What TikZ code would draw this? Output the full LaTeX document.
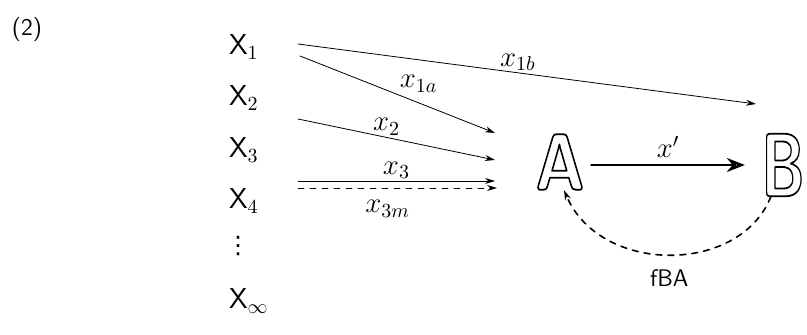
\documentclass[tikz,border=0pt]{standalone}
\usepackage{fontspec}
\usepackage{graphicx}
\usetikzlibrary{arrows.meta}
\newfontfamily\symfont{DejaVu Sans}
\newcommand{\hollow}[2]{\scalebox{#1}[1]{\special{pdf:literal direct 1 Tr 0.9 w}#2\special{pdf:literal direct 0 Tr}}}
\begin{document}
\begin{tikzpicture}[x=0.5pt, y=-0.5pt, line cap=round, line join=round,
    >={Stealth[length=5pt,width=3pt]},
    src/.style={font=\sffamily\Large, anchor=west},
    lbl/.style={font=\Large, inner sep=1pt},
    big/.style={font=\sffamily\bfseries\fontsize{#1}{#1}\selectfont, inner sep=0pt}]
    % Fixed frame, same size as the scanned figure
    \useasboundingbox (0,0) rectangle (807,335);
    
    % Figure number
    \node[font=\sffamily\large] (num) at (27,30) {(2)};
    
    % Sources X_1 ... X_oo
    \node[src] (X1) at (222,47) {X$_1$};
    \node[src] (X2) at (222,98) {X$_2$};
    \node[src] (X3) at (222,150) {X$_3$};
    \node[src] (X4) at (222,201) {X$_4$};
    \node[font=\symfont\large] (dots) at (238,246) {⋮};
    \node[src] (Xinf) at (222,301) {X$_{\infty}$};
    
    % The two targets
    \node[big=40] (A) at (560,162) {\hollow{0.85}{A}};
    \node[big=45] (B) at (783,165) {\hollow{0.66}{B}};
    
    % Start and end points of the flows
    \coordinate (s1b) at (298,44);
    \coordinate (s1a) at (300,56);
    \coordinate (s2) at (298,119);
    \coordinate (s3) at (298,181);
    \coordinate (s3m) at (298,188);
    \coordinate (e1a) at (495,133);
    \coordinate (e2) at (495,160);
    \coordinate (e3) at (495,181);
    \coordinate (e3m) at (497,188);
    \coordinate (e1b) at (756,104);
    
    % Flows into A and B
    \draw[->] (s1b) -- node[lbl, above, pos=0.48] {$x_{1b}$} (e1b);
    \draw[->] (s1a) -- node[lbl, above right, pos=0.5] {$x_{1a}$} (e1a);
    \draw[->] (s2) -- node[lbl, above, pos=0.45] {$x_2$} (e2);
    \draw[->] (s3) -- node[lbl, above] {$x_3$} (e3);
    \draw[->, dashed] (s3m) -- node[lbl, below=5pt, pos=0.45] {$x_{3m}$} (e3m);
    
    % Transfer A -> B
    \draw[->, line width=1.3pt, >={Stealth[length=9pt,width=7pt,open]}]
        (A.east) ++(6,3) coordinate (a0) -- node[lbl, above=2pt] {$x'$} ([xshift=-8]B.west |- a0);
    
    % Feedback B -> A
    \draw[->, dashed, thick] (B.south west) ++(10,0)
        .. controls (740,275) and (600,275) .. ([xshift=2]A.south)
        node[pos=0.5, below=4pt, font=\sffamily\large] (fba) {fBA};
\end{tikzpicture}
\end{document}
